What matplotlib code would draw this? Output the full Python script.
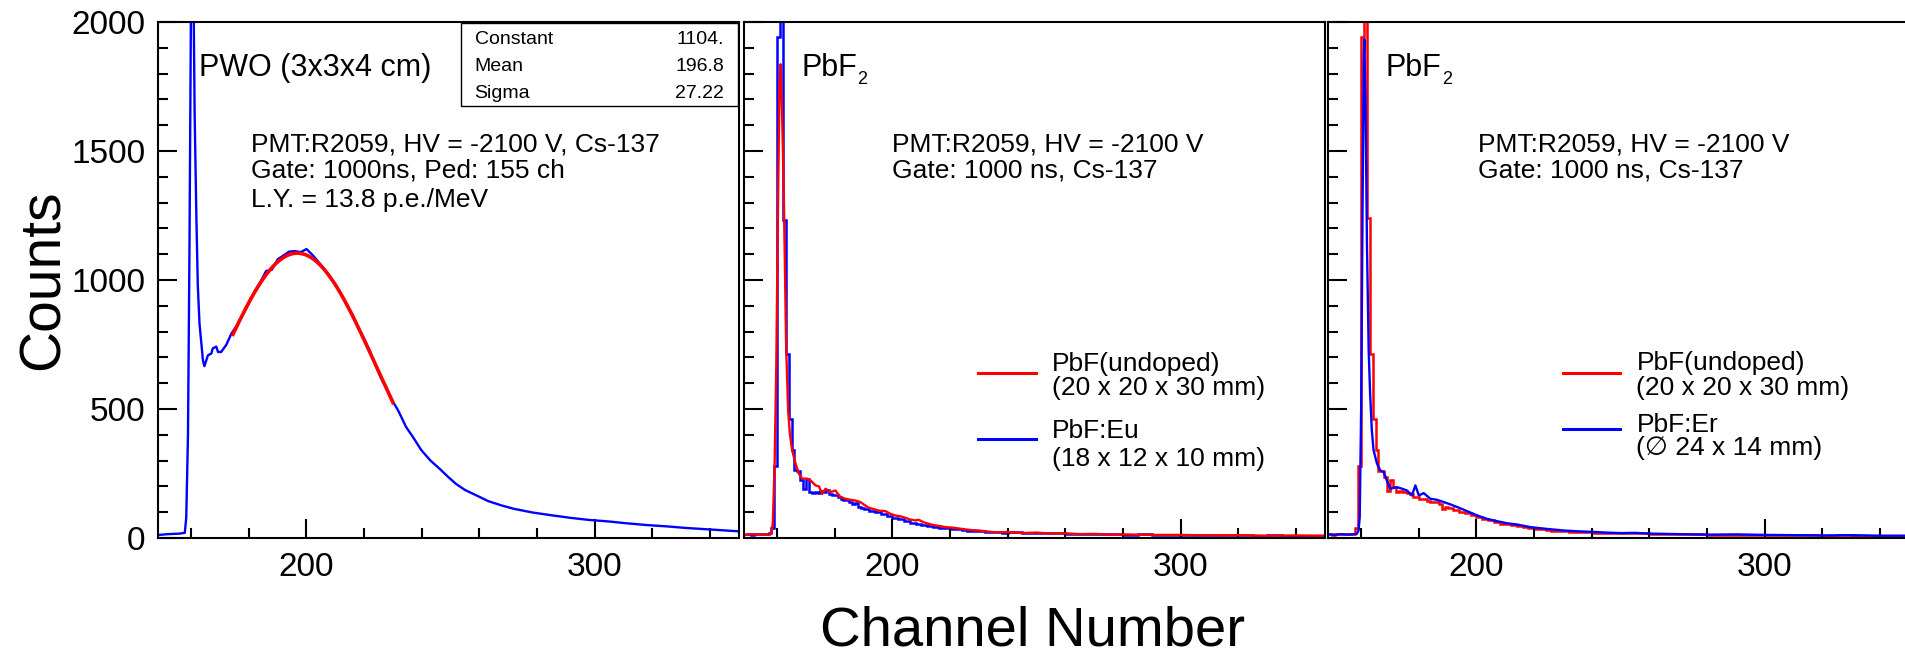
import numpy as np
import matplotlib
matplotlib.use("Agg")
import matplotlib.pyplot as plt
from matplotlib.ticker import MultipleLocator
from matplotlib.patches import Rectangle

plt.rcParams['font.family'] = ['Liberation Sans', 'DejaVu Sans']

# ---------------- data ----------------
# PWO spectrum (channel, counts)
pwo_ch = [148.5, 150, 152, 154, 156, 157.8, 158.3, 158.9, 159.4, 159.9, 160.5,
          161.2, 161.8, 162.3, 162.9, 164.1, 164.6, 165.8, 167.0, 167.5, 168.7,
          169.3, 170.4, 172.2, 173.9, 176, 178, 180, 182, 184, 186, 188, 190,
          192, 194, 196, 198, 200, 202, 204, 206, 208, 210, 212, 214, 216, 218,
          220, 222, 224, 226, 228, 230, 231.5, 232.5, 234.5, 237, 239.8, 243,
          246.5, 249, 251.8, 255, 259.7, 263, 267.7, 272, 278.3, 285, 291.6,
          298, 304.9, 311, 318.2, 325, 331.5, 340, 349.7]
pwo_counts = [12, 13, 15, 16, 17, 20, 80, 400, 1100, 2000, 2500,
              1650, 1250, 980, 830, 687, 666, 708, 715, 735, 742,
              721, 721, 749, 791, 826, 866, 910, 955, 992, 1035, 1040, 1080,
              1095, 1110, 1112, 1108, 1120, 1098, 1072, 1045, 1012, 984, 946,
              902, 864, 812, 772, 724, 668, 616, 574, 528, 500, 478, 431, 390,
              341, 300, 265, 238, 210, 186, 161, 143, 126, 113, 99, 88, 78,
              70, 64, 57, 50, 45, 39, 33, 26]

# Gaussian fit parameters
fit_constant = 1104.
fit_mean = 196.8
fit_sigma = 27.22
fit_range = (174.5, 230.0)

# Histogram binning for the PbF2 spectra
bin_edges = np.concatenate([np.arange(149, 190, 1),
                            np.arange(190, 240, 2),
                            np.arange(240, 351, 5)])

# PbF:Eu (histogram contents)
eu_counts = [14, 16, 13, 15, 17, 14, 16, 15, 18, 39, 279, 1940, 2350, 1234,
             714, 461, 340, 262, 258, 225, 188, 230, 180, 176, 178, 174, 184,
             178, 186, 172, 168, 165, 160, 152, 148, 146, 140, 132, 136, 122,
             118,
             112, 106, 100, 92, 84, 78, 72, 66, 60, 55, 52, 47, 44, 40, 38, 35,
             33, 31, 28, 27, 26, 24, 22, 23, 21,
             22, 20, 19, 18, 17, 15, 16, 14, 13, 14, 12, 13, 11, 12, 10, 11,
             10, 9, 10, 9, 8, 9]

# PbF undoped, middle panel (channel, counts)
und_a_ch = [149, 151, 153, 155, 157, 158, 158.5, 159.1, 159.7, 160.3, 160.8,
            161.2, 161.7, 162.2, 162.7, 163.1, 163.8, 164.4, 165.2, 166.4,
            167.5, 168.7, 170.4, 171.6, 173.3, 174.5, 175.6, 176.8, 178.5,
            180.2, 182, 183.7, 185.5, 187.2, 188.9, 190.3, 191.8, 193.5, 195.3,
            197.6, 199, 201, 202.8, 204.5, 206, 208, 209, 211, 213.8, 216,
            218.4, 221, 224.2, 227, 230, 233, 235.7, 240, 245, 250, 255, 260,
            265, 270, 275, 280, 290, 300, 310, 320, 330, 340, 350]
und_a_counts = [12, 15, 13, 14, 12, 18, 60, 275, 665, 1300, 1750,
                1836, 1650, 1400, 1050, 750, 496, 405, 340, 288,
                249, 230, 230, 223, 204, 200, 171, 191, 178,
                184, 158, 152, 148, 145, 139, 128, 117, 112, 106,
                104, 95, 87, 84, 78, 72, 68, 71, 60, 51, 47,
                42, 40, 35, 31, 29, 25, 22, 23, 19, 21, 17, 18,
                15, 16, 13, 14, 12, 12, 10, 11, 9, 10, 9]

# PbF undoped, right panel (histogram contents)
und_b_counts = [15, 13, 16, 14, 15, 17, 14, 16, 15, 39, 279, 1940, 2300, 1240,
                714, 461, 340, 260, 258, 236, 184, 223, 197, 178, 182, 178,
                180, 176, 172, 158, 160, 152, 150, 152, 142, 140, 138, 140,
                132, 113, 120,
                118, 108, 102, 96, 88, 82, 75, 68, 62, 56, 54, 50, 46, 42, 40,
                36, 34, 32, 29, 28, 26, 25, 23, 22, 22,
                21, 19, 18, 19, 16, 15, 14, 15, 13, 12, 13, 11, 12, 10, 11, 10,
                9, 10, 9, 8, 9, 8]

# PbF:Er (channel, counts)
er_ch = [149, 151, 153, 155, 157, 158.5, 159.1, 159.5, 160, 160.5, 160.9,
         161.1, 161.5, 162, 162.6, 163.1, 163.7, 164.3, 165.5, 166.6, 167.8,
         168.9, 170.1, 172.4, 174.2, 175.9, 177.6, 178.8, 180, 181.7, 184,
         186.3, 188.7, 191, 193.3, 196.8, 200.3, 203.7, 207.2, 210.7, 214.2,
         218.8, 224.6, 230.4, 235, 239.7, 245, 250, 255, 260, 265, 270, 280,
         290, 300, 310, 320, 330, 340, 350]
er_counts = [14, 12, 15, 13, 14, 16, 29, 80, 500, 1300, 1850,
             1933, 1700, 1150, 730, 561, 418, 340, 288, 262, 256,
             223, 191, 197, 191, 184, 165, 204, 165, 174, 152,
             148, 139, 130, 120, 104, 87, 74, 65, 57, 52,
             42, 35, 29, 26, 24, 21, 19, 20, 17, 16, 15, 13,
             14, 12, 11, 10, 11, 9, 9]

RED = '#ff0000'
BLUE = '#0000ff'

# ---------------- layout ----------------
W, H = 1905, 650
fig = plt.figure(figsize=(W / 100, H / 100), dpi=100)


def fx(px):
    return px / W


def fy(py):
    return 1 - py / H


def ftext(px, py, s, size, **kw):
    kw.setdefault('ha', 'left')
    kw.setdefault('va', 'baseline')
    fig.text(fx(px), fy(py), s, fontsize=size, **kw)


AX_TOP, AX_BOT, AX_W = 22, 538, 581
panel_left = [158, 744, 1328]

axes = []
for i, left in enumerate(panel_left):
    ax = fig.add_axes([left / W, 1 - AX_BOT / H, AX_W / W, (AX_BOT - AX_TOP) / H])
    ax.set_xlim(148.5, 350)
    ax.set_ylim(0, 2000)
    ax.xaxis.set_major_locator(MultipleLocator(100))
    ax.xaxis.set_minor_locator(MultipleLocator(20))
    ax.yaxis.set_major_locator(MultipleLocator(500))
    ax.yaxis.set_minor_locator(MultipleLocator(100))
    ax.tick_params(which='both', direction='in', top=False, right=False,
                   width=1.5, labelsize=24, colors='black')
    ax.tick_params(which='major', length=13.5)
    ax.tick_params(which='minor', length=7)
    ax.tick_params(axis='x', pad=10)
    ax.tick_params(axis='y', pad=9)
    if i > 0:
        ax.tick_params(labelleft=False)
    for sp in ax.spines.values():
        sp.set_linewidth(1.5)
    axes.append(ax)

ax1, ax2, ax3 = axes

# PWO panel
ax1.plot(pwo_ch, pwo_counts, color=BLUE, lw=1.7)
xf = np.linspace(fit_range[0], fit_range[1], 300)
yf = fit_constant * np.exp(-0.5 * ((xf - fit_mean) / fit_sigma) ** 2)
ax1.plot(xf, yf, color=RED, lw=2.6)

# PbF:Eu panel
ax2.plot(und_a_ch, und_a_counts, color=RED, lw=1.7)
ax2.stairs(eu_counts, bin_edges, color=BLUE, lw=1.8, baseline=None)

# PbF:Er panel
ax3.plot(er_ch, er_counts, color=BLUE, lw=1.7)
ax3.stairs(und_b_counts, bin_edges, color=RED, lw=1.8, baseline=None)

# ---------------- text ----------------
# stats box
fig.patches.append(Rectangle((fx(460.5), fy(106)), (738 - 460.5) / W, (106 - 23) / H,
                             transform=fig.transFigure, facecolor='white',
                             edgecolor='black', lw=1.0, zorder=5))
for label, value, base in [('Constant', '1104.', 43.6),
                           ('Mean', '196.8', 71.4),
                           ('Sigma', '27.22', 98.2)]:
    ftext(474.5, base, label, 14, zorder=6)
    ftext(724, base, value, 14, ha='right', zorder=6)

ftext(199, 75.7, 'PWO (3x3x4 cm)', 22)
ftext(250.6, 151.8, 'PMT:R2059, HV = -2100 V, Cs-137', 19)
ftext(250.6, 177.5, 'Gate: 1000ns, Ped: 155 ch', 19)
ftext(250.6, 207, 'L.Y. = 13.8 p.e./MeV', 19)

# middle panel
ftext(801, 75.7, 'PbF', 22)
ftext(857, 84, '2', 13)
ftext(892.3, 151.8, 'PMT:R2059, HV = -2100 V', 19)
ftext(892.3, 177.5, 'Gate: 1000 ns, Cs-137', 19)
fig.lines.append(plt.Line2D([fx(978.4), fx(1035.8)], [fy(373), fy(373)],
                            transform=fig.transFigure, color=RED, lw=2.2))
fig.lines.append(plt.Line2D([fx(978.4), fx(1035.8)], [fy(438.6), fy(438.6)],
                            transform=fig.transFigure, color=BLUE, lw=2.2))
ftext(1052, 371.4, 'PbF(undoped)', 19)
ftext(1052, 394.6, '(20 x 20 x 30 mm)', 19)
ftext(1052, 437.5, 'PbF:Eu', 19)
ftext(1052, 466, '(18 x 12 x 10 mm)', 19)

# right panel
ftext(1386, 75.7, 'PbF', 22)
ftext(1442, 84, '2', 13)
ftext(1477.8, 151.8, 'PMT:R2059, HV = -2100 V', 19)
ftext(1477.8, 177.5, 'Gate: 1000 ns, Cs-137', 19)
fig.lines.append(plt.Line2D([fx(1563), fx(1620.4)], [fy(373), fy(373)],
                            transform=fig.transFigure, color=RED, lw=2.2))
fig.lines.append(plt.Line2D([fx(1563), fx(1620.4)], [fy(428.6), fy(428.6)],
                            transform=fig.transFigure, color=BLUE, lw=2.2))
ftext(1636.4, 369.6, 'PbF(undoped)', 19)
ftext(1636.4, 394.6, '(20 x 20 x 30 mm)', 19)
ftext(1636.4, 432.1, 'PbF:Er', 19)
ftext(1636.4, 455.4, '(\u2205 24 x 14 mm)', 19)

# axis titles
fig.text(fx(44), fy(280), 'Counts', rotation=90, ha='center', va='center', fontsize=41)
ftext(1032, 645, 'Channel Number', 40.5, ha='center')

fig.savefig('out.png', dpi=100)
